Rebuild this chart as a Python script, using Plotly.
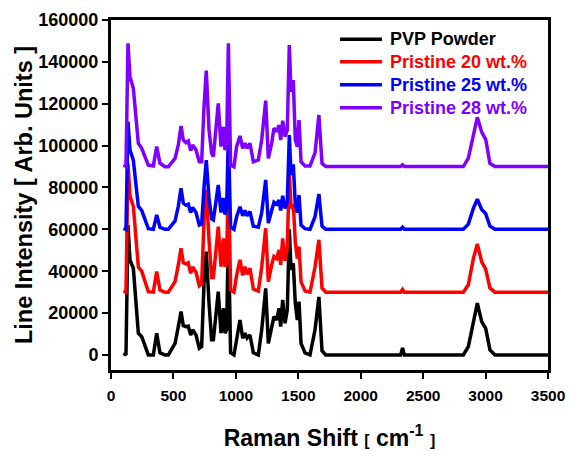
import plotly.graph_objects as go

wavenumber = [100, 120, 136, 152, 179, 219, 246, 272, 299, 339, 366, 392, 432, 459, 513, 539, 561, 579, 601, 619,
              638, 654, 681, 707, 726, 745, 763, 785, 806, 820, 859, 881, 900, 913, 926, 940, 958, 985, 1006, 1033,
              1055, 1073, 1090, 1113, 1140, 1180, 1207, 1239, 1260, 1287, 1305, 1327, 1346, 1359, 1375, 1394, 1412,
              1428, 1442, 1460, 1476, 1492, 1506, 1522, 1554, 1594, 1634, 1665, 1690, 1720, 1800, 2000, 2200, 2320,
              2335, 2350, 2500, 2700, 2822, 2862, 2902, 2934, 2969, 3001, 3035, 3075, 3200, 3500]

pvp_powder = [800, 0, 62000, 45400, 41400, 10400, 8700, 4000, 0, 0, 10400, 1000, 0, 0, 5500, 13500, 20700, 14000, 13500, 13800,
              9500, 12000, 9500, 3200, 4000, 34200, 49400, 24700, 7200, 7200, 30200, 10400, 22300, 10400, 12000, 58000, 1000, 0, 8000, 16700,
              8000, 10400, 8000, 9500, 1000, 0, 12000, 31800, 5500, 13500, 18300, 16700, 22300, 13500, 26300, 15100, 21500,
              60000, 40600, 43800, 24800, 16700, 25500, 5500, 1000, 0, 12000, 27700, 2000, 0, 0, 0, 0, 0,
              3300, 0, 0, 0, 0, 4000, 16700, 24700, 15900, 12700, 2400, 0, 0, 0]

pristine_20 = [30500, 30000, 91500, 76000, 71000, 42000, 40000, 35000, 30200, 30000, 39800, 31000, 30000, 30000, 35000, 43000, 51000, 44000, 43500, 44000,
               39000, 42000, 39500, 33000, 34000, 64000, 79000, 55000, 37000, 37000, 61300, 42200, 55700, 42200, 44000, 90000, 31000, 30000, 38000, 45400,
               38000, 42200, 38500, 41400, 31500, 30500, 42000, 60500, 35000, 43000, 47000, 46000, 50200, 43000, 55700, 45000, 51000,
               88000, 70000, 72000, 54000, 46000, 51700, 35000, 30500, 30000, 42000, 55000, 32000, 30000, 30000, 30000, 30000, 30000,
               31300, 30000, 30000, 30000, 30000, 33500, 46000, 53000, 44500, 41000, 32000, 30000, 30000, 30000]

pristine_25 = [60500, 60000, 111400, 98000, 93000, 71000, 69000, 64500, 60300, 60000, 66900, 61000, 60000, 60000, 64000, 71000, 79600, 72500, 71500, 72000,
               68000, 70500, 68000, 62000, 62500, 80000, 93100, 75000, 65000, 64500, 81200, 68000, 75000, 67000, 70000, 105000, 61000, 60000, 66000, 70800,
               66500, 69000, 66500, 68500, 61500, 61000, 68000, 83600, 63000, 69000, 73000, 72000, 74000, 69000, 76000, 70000, 73000,
               105000, 86000, 91000, 72000, 68000, 76400, 62000, 60300, 60000, 66000, 76900, 61500, 60000, 60000, 60000, 60000, 60000,
               61000, 60000, 60000, 60000, 60000, 62500, 70000, 74400, 69500, 67500, 61500, 60000, 60000, 60000]

pristine_28 = [90700, 90000, 148900, 132900, 127400, 101100, 98700, 94700, 90700, 90300, 99500, 91600, 89900, 89900, 93900, 100300, 109400, 102700, 101400, 102200,
               97600, 100300, 97900, 92300, 92300, 118600, 135800, 107500, 96300, 94700, 120200, 99500, 109000, 97900, 101000, 148900, 90700, 89900, 99500, 104600,
               98700, 101100, 98700, 101100, 92300, 93100, 102700, 121500, 93900, 101100, 108300, 106700, 109800, 102700, 111900, 104300, 107500,
               148000, 125800, 131300, 102700, 99500, 112200, 92300, 90300, 90300, 96500, 114600, 91500, 90000, 90000, 90000, 90000, 90000,
               90800, 90000, 90000, 90000, 90000, 94000, 106000, 113500, 106500, 103000, 91500, 90000, 90000, 90000]

x_ticks = [0, 500, 1000, 1500, 2000, 2500, 3000, 3500]
y_ticks = [0, 20000, 40000, 60000, 80000, 100000, 120000, 140000, 160000]

series_names = ["PVP Powder", "Pristine 20 wt.%", "Pristine 25 wt.%", "Pristine 28 wt.%"]
series_values = [pvp_powder, pristine_20, pristine_25, pristine_28]
series_colors = ["#000000", "#ff0000", "#0000ff", "#8000ff"]

FONT = "Liberation Sans, Arial, sans-serif"

fig = go.Figure()
for name, vals, col in zip(series_names, series_values, series_colors):
    fig.add_trace(go.Scatter(x=wavenumber, y=vals, mode="lines",
                             line=dict(color=col, width=3.5), name=name, showlegend=False))

# legend drawn as line samples + labels (paper coordinates) for tight row spacing
legend_rows_y = [0.945, 0.881, 0.815, 0.749]
for name, col, ly in zip(series_names, series_colors, legend_rows_y):
    fig.add_shape(type="line", xref="paper", yref="paper", x0=0.524, x1=0.620, y0=ly, y1=ly,
                  line=dict(color=col, width=3.5))
    fig.add_annotation(xref="paper", yref="paper", x=0.634, y=ly, xanchor="left", yanchor="middle",
                       text=f"<b>{name}</b>", showarrow=False,
                       font=dict(family=FONT, size=18, color=col))

axis_common = dict(
    showline=True, linecolor="black", linewidth=3, mirror=True,
    ticks="outside", ticklen=6, tickwidth=2, tickcolor="black",
    showgrid=False, zeroline=False, automargin=False,
)

fig.update_layout(
    width=570, height=451,
    margin=dict(l=111, r=22, t=20, b=81, autoexpand=False),
    paper_bgcolor="white", plot_bgcolor="white",
    showlegend=False,
    xaxis=dict(range=[0, 3500], tickvals=x_ticks, ticklabelstandoff=3,
               tickfont=dict(family=FONT, size=15.5, color="black", weight="bold"),
               title=dict(text='<b>Raman Shift <span style="font-size:16px">[</span> cm<sup>-1</sup> <span style="font-size:16px">]</span></b>',
                          font=dict(family=FONT, size=23, color="black"), standoff=28),
               **axis_common),
    yaxis=dict(range=[-7200, 160000], tickvals=y_ticks, tickformat="d",
               tickfont=dict(family=FONT, size=18, color="black", weight="bold"),
               title=dict(text="<b>Line Intensity [ Arb. Units ]</b>",
                          font=dict(family=FONT, size=23.5, color="black"), standoff=0),
               **axis_common),
)

fig.write_html("out.html")
